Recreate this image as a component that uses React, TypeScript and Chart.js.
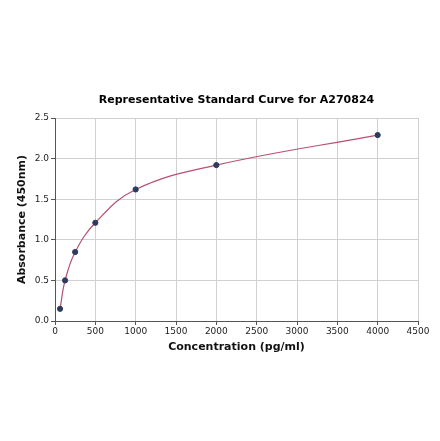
import { useEffect, useRef } from "react";
import { Chart, registerables } from "chart.js";

Chart.register(...registerables);

const concentrations = [62.5, 125, 250, 500, 1000, 2000, 4000];
const absorbance = [0.15, 0.5, 0.85, 1.21, 1.62, 1.92, 2.29];
const chartTitle = "Representative Standard Curve for A270824";

const FONT = "'DejaVu Sans', sans-serif";

// title centred over the plot area, like the original
const plotTitle = {
  id: "plotTitle",
  afterDraw(chart: any) {
    const { ctx, chartArea } = chart;
    ctx.save();
    ctx.font = `bold 11px ${FONT}`;
    ctx.fillStyle = "#000";
    ctx.textAlign = "center";
    ctx.textBaseline = "middle";
    ctx.fillText(chartTitle, (chartArea.left + chartArea.right) / 2, 100);
    ctx.restore();
  },
};

const App = () => {
  const chartRef = useRef<HTMLCanvasElement>(null);

  useEffect(() => {
    if (!chartRef.current) return;
    const ctx = chartRef.current.getContext("2d");
    if (!ctx) return;
    const points = concentrations.map((x, i) => ({ x, y: absorbance[i] }));
    const chart = new Chart(ctx, {
      type: "scatter",
      data: {
        datasets: [
          {
            label: "Fit",
            data: points,
            showLine: true,
            tension: 0.4,
            borderColor: "#b8506f",
            borderWidth: 1.2,
            pointRadius: 0,
            order: 2,
          },
          {
            label: "Standards",
            data: points,
            showLine: false,
            backgroundColor: "#2f3b5e",
            borderColor: "#2f3b5e",
            pointRadius: 2.6,
            order: 1,
          },
        ],
      },
      options: {
        animation: false,
        responsive: false,
        layout: { padding: { left: 16, right: 22, bottom: 87, top: 118 } },
        plugins: {
          legend: { display: false },
          tooltip: { enabled: false },
          title: { display: false },
        },
        scales: {
          x: {
            type: "linear",
            min: 0,
            max: 4500,
            ticks: {
              stepSize: 500,
              color: "#222",
              font: { family: FONT, size: 9 },
              padding: 1,
              maxRotation: 0,
              callback: (v: any) => String(v),
            },
            grid: { color: "#d0d0d0", tickColor: "#555", tickLength: 4 },
            border: { color: "#555" },
            title: {
              display: true,
              text: "Concentration (pg/ml)",
              color: "#111",
              font: { family: FONT, size: 11, weight: "bold" },
              padding: { top: 2, bottom: 0 },
            },
            afterFit: (s: any) => {
              s.height = 33;
            },
          },
          y: {
            min: 0,
            max: 2.5,
            ticks: {
              stepSize: 0.5,
              color: "#222",
              font: { family: FONT, size: 9 },
              padding: 2,
              callback: (v: any) => Number(v).toFixed(1),
            },
            grid: { color: "#d0d0d0", tickColor: "#555", tickLength: 4 },
            border: { color: "#555" },
            title: {
              display: true,
              text: "Absorbance (450nm)",
              color: "#111",
              font: { family: FONT, size: 11, weight: "bold" },
              padding: { top: 0, bottom: 0 },
            },
            afterFit: (s: any) => {
              s.width = 39;
            },
          },
        },
      },
      plugins: [plotTitle],
    });
    return () => chart.destroy();
  }, []);

  return (
    <div style={{ position: "fixed", left: 0, top: 0, width: 440, height: 441, background: "#fff" }}>
      <canvas ref={chartRef} width={440} height={441}></canvas>
    </div>
  );
};

export default App;
